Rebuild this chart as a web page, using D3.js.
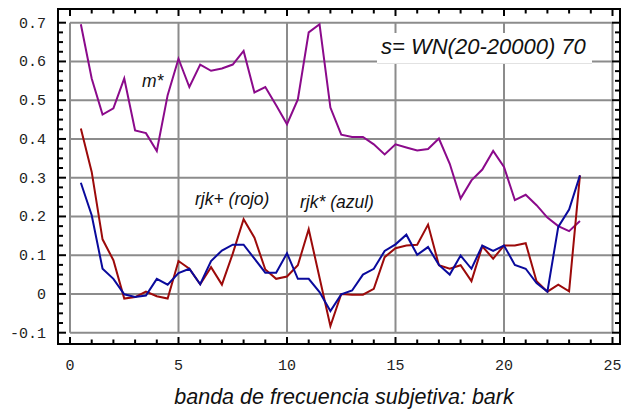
<!DOCTYPE html>
<html>
<head>
<meta charset="utf-8">
<script src="https://cdn.jsdelivr.net/npm/d3@7"></script>
<style>
  html, body { margin: 0; padding: 0; background: #fff; }
  svg { display: block; }
</style>
</head>
<body>
<svg id="chart" width="621" height="412"></svg>
<script>
// Bark band centres (0.5 .. 23.5 in half-bark steps)
const bark = [0.5,1,1.5,2,2.5,3,3.5,4,4.5,5,5.5,6,6.5,7,7.5,8,8.5,9,9.5,10,10.5,11,11.5,12,
  12.5,13,13.5,14,14.5,15,15.5,16,16.5,17,17.5,18,18.5,19,19.5,20,20.5,21,21.5,22,22.5,23,23.5];

// m*
const mStar = [0.696,0.556,0.463,0.479,0.556,0.422,0.415,0.369,0.513,0.607,0.534,0.592,0.576,0.582,0.592,0.627,
  0.520,0.534,0.487,0.438,0.502,0.675,0.696,0.481,0.411,0.405,0.405,0.386,0.360,0.386,0.378,0.370,
  0.374,0.401,0.336,0.246,0.293,0.321,0.369,0.328,0.242,0.256,0.229,0.197,0.175,0.162,0.188];

// rjk+ (rojo)
const rjkPlus = [0.427,0.315,0.141,0.087,-0.012,-0.008,0.006,-0.006,-0.012,0.085,0.065,0.025,0.069,0.024,0.104,0.193,
  0.145,0.063,0.039,0.045,0.074,0.167,0.042,-0.083,0.000,-0.002,-0.002,0.013,0.095,0.118,0.125,0.127,
  0.179,0.074,0.065,0.074,0.033,0.123,0.091,0.125,0.125,0.131,0.033,0.006,0.024,0.007,0.306];

// rjk* (azul)
const rjkStar = [0.287,0.203,0.065,0.039,-0.001,-0.008,-0.004,0.039,0.024,0.054,0.065,0.025,0.085,0.112,0.127,0.127,
  0.091,0.055,0.055,0.105,0.039,0.039,0.005,-0.044,-0.001,0.009,0.050,0.065,0.111,0.128,0.153,0.101,
  0.121,0.075,0.050,0.099,0.065,0.125,0.111,0.125,0.075,0.065,0.028,0.006,0.173,0.218,0.306];

const xTicks = [0,5,10,15,20,25];
const yTicks = [-0.1,0,0.1,0.2,0.3,0.4,0.5,0.6,0.7];
const yTickLabels = ["-0.1","0","0.1","0.2","0.3","0.4","0.5","0.6","0.7"];

const svg = d3.select("#chart");
const x = d3.scaleLinear().domain([0, 25]).range([70, 612.5]);
const y = d3.scaleLinear().domain([-0.1, 0.7]).range([332.7, 22.7]);

const frame = {left: 58, right: 620, top: 9, bottom: 344};
const gridColor = "#8c8c8c";
const sans = "'Liberation Sans', Arial, sans-serif";
const mono = "'Liberation Mono', 'Courier New', monospace";

// grid
const grid = svg.append("g");
grid.selectAll("line.v").data(xTicks).join("line")
  .attr("x1", d => x(d)).attr("x2", d => x(d))
  .attr("y1", y(0.7)).attr("y2", y(-0.1))
  .attr("stroke", gridColor).attr("stroke-width", 2);
grid.selectAll("line.h").data(yTicks).join("line")
  .attr("x1", x(0)).attr("x2", x(25))
  .attr("y1", d => y(d)).attr("y2", d => y(d))
  .attr("stroke", gridColor).attr("stroke-width", 2);

// annotation box
const box = svg.append("g");
box.append("rect").attr("x", 377).attr("y", 33).attr("width", 215).attr("height", 30)
  .attr("fill", "#fff");
box.append("line").attr("x1", 377).attr("x2", 592).attr("y1", 63.5).attr("y2", 63.5)
  .attr("stroke", "#e2e2e2").attr("stroke-width", 1);
box.append("text").attr("x", 381).attr("y", 54)
  .attr("font-family", sans).attr("font-style", "italic").attr("font-size", 22)
  .attr("fill", "#111").text("s= WN(20-20000) 70");

// series
const line = vals => d3.line().x((d, i) => x(bark[i])).y(d => y(d))(vals);
const series = [
  {vals: mStar, color: "#8b0a8b"},
  {vals: rjkPlus, color: "#9c0a0a"},
  {vals: rjkStar, color: "#0a0a9c"}
];
svg.append("g").selectAll("path").data(series).join("path")
  .attr("d", d => line(d.vals))
  .attr("fill", "none").attr("stroke", d => d.color)
  .attr("stroke-width", 2).attr("stroke-linejoin", "miter");

// series labels
const labels = [
  {t: "m*", x: 142, y: 87},
  {t: "rjk+ (rojo)", x: 195, y: 205},
  {t: "rjk* (azul)", x: 300, y: 208}
];
svg.append("g").selectAll("text").data(labels).join("text")
  .attr("x", d => d.x).attr("y", d => d.y)
  .attr("font-family", sans).attr("font-style", "italic").attr("font-size", 17.5)
  .attr("fill", "#111").text(d => d.t);

// black frame with inward ticks
const ax = svg.append("g").attr("stroke", "#000");
ax.append("rect").attr("x", frame.left).attr("y", frame.top)
  .attr("width", frame.right - frame.left).attr("height", frame.bottom - frame.top)
  .attr("fill", "none").attr("stroke-width", 2);

const xMinor = d3.range(0, 26, 1);
const yMinor = d3.range(-0.1, 0.7001, 0.025);
const isMajorX = d => d % 5 === 0;
const isMajorY = d => Math.abs(Math.round(d * 10) - d * 10) < 1e-6;

ax.selectAll("line.tt").data(xMinor).join("line")
  .attr("x1", d => x(d)).attr("x2", d => x(d))
  .attr("y1", frame.top).attr("y2", d => frame.top + (isMajorX(d) ? 7 : 4.5))
  .attr("stroke-width", 2);
ax.selectAll("line.tb").data(xMinor).join("line")
  .attr("x1", d => x(d)).attr("x2", d => x(d))
  .attr("y1", frame.bottom).attr("y2", d => frame.bottom - (isMajorX(d) ? 7 : 4.5))
  .attr("stroke-width", 2);
ax.selectAll("line.tl").data(yMinor).join("line")
  .attr("y1", d => y(d)).attr("y2", d => y(d))
  .attr("x1", frame.left).attr("x2", d => frame.left + (isMajorY(d) ? 8 : 5))
  .attr("stroke-width", 2);
ax.selectAll("line.tr").data(yMinor).join("line")
  .attr("y1", d => y(d)).attr("y2", d => y(d))
  .attr("x1", frame.right).attr("x2", d => frame.right - (isMajorY(d) ? 8 : 5))
  .attr("stroke-width", 2);

// tick labels
svg.append("g").selectAll("text").data(xTicks).join("text")
  .attr("x", d => x(d)).attr("y", 370)
  .attr("text-anchor", "middle")
  .attr("font-family", mono).attr("font-size", 15).attr("fill", "#222")
  .text(d => d);
svg.append("g").selectAll("text").data(yTicks).join("text")
  .attr("x", 46).attr("y", d => y(d) + 5)
  .attr("text-anchor", "end")
  .attr("font-family", mono).attr("font-size", 15).attr("fill", "#222")
  .text((d, i) => yTickLabels[i]);

// axis title
svg.append("text").attr("x", 344).attr("y", 403.5).attr("text-anchor", "middle")
  .attr("font-family", sans).attr("font-style", "italic").attr("font-size", 21.5)
  .attr("fill", "#111").text("banda de frecuencia subjetiva: bark");
</script>
</body>
</html>
